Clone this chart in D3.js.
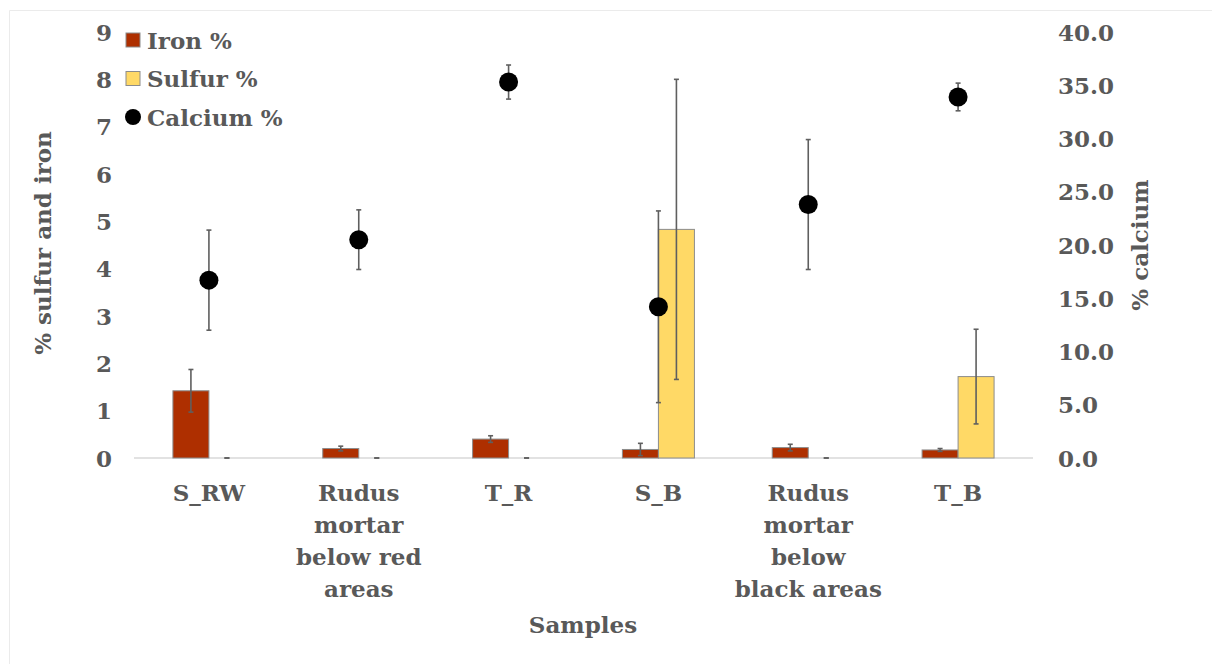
<!DOCTYPE html>
<html>
<head>
<meta charset="utf-8">
<script src="https://cdn.jsdelivr.net/npm/d3@7"></script>
<style>
  body { margin: 0; background: #fff; }
  svg text { font-family: "DejaVu Serif", "Liberation Serif", serif; font-weight: bold; fill: #595959; }
</style>
</head>
<body>
<svg id="chart" width="1212" height="664"></svg>
<script>
// Chart data
const categories = ["S_RW", "Rudus mortar below red areas", "T_R", "S_B", "Rudus mortar below black areas", "T_B"];
const categoryLines = [["S_RW"], ["Rudus", "mortar", "below red", "areas"], ["T_R"], ["S_B"], ["Rudus", "mortar", "below", "black areas"], ["T_B"]];
const ironValues = [1.42, 0.20, 0.40, 0.18, 0.22, 0.17];
const ironErrors = [0.45, 0.05, 0.07, 0.13, 0.07, 0.03];
const sulfurValues = [0, 0, 0, 4.83, 0, 1.72];
const sulfurErrors = [0, 0, 0, 3.17, 0, 1.0];
const calciumValues = [16.7, 20.5, 35.3, 14.2, 23.8, 33.9];
const calciumErrors = [4.7, 2.8, 1.6, 9.0, 6.1, 1.3];
const leftTicks = [0, 1, 2, 3, 4, 5, 6, 7, 8, 9];
const rightTicks = [0, 5, 10, 15, 20, 25, 30, 35, 40];

const svg = d3.select("#chart");

// light frame (top and left only visible)
svg.append("line").attr("x1", 9.5).attr("y1", 10.5).attr("x2", 1212).attr("y2", 10.5).attr("stroke", "#ebebeb");
svg.append("line").attr("x1", 9.5).attr("y1", 10.5).attr("x2", 9.5).attr("y2", 664).attr("stroke", "#ebebeb");

// Scales
const x = d3.scaleBand().domain(categories).range([134, 1033]);
const series = d3.scaleBand().domain(["iron", "sulfur"]).range([-36, 36]);
const yLeft = d3.scaleLinear().domain([0, 9]).range([458, 32]);
const yRight = d3.scaleLinear().domain([0, 40]).range([458, 32]);

const center = (c) => x(c) + x.bandwidth() / 2;

// Left axis labels
svg.append("g").selectAll("text").data(leftTicks).join("text")
  .attr("x", 112).attr("y", (d) => yLeft(d))
  .attr("text-anchor", "end").attr("dominant-baseline", "central")
  .style("font-size", "23px").text((d) => d);

// Right axis labels
svg.append("g").selectAll("text").data(rightTicks).join("text")
  .attr("x", 1058).attr("y", (d) => yRight(d))
  .attr("text-anchor", "start").attr("dominant-baseline", "central")
  .style("font-size", "23px").text((d) => d3.format(".1f")(d));

// Baseline
svg.append("line").attr("x1", 134).attr("x2", 1033).attr("y1", yLeft(0)).attr("y2", yLeft(0))
  .attr("stroke", "#d9d9d9").attr("stroke-width", 1.5);

// Bars
function drawBars(values, errors, key, color) {
  const g = svg.append("g");
  g.selectAll("rect").data(values).join("rect")
    .attr("x", (d, i) => center(categories[i]) + series(key))
    .attr("width", series.bandwidth())
    .attr("y", (d) => yLeft(d))
    .attr("height", (d) => yLeft(0) - yLeft(d))
    .attr("fill", color)
    .attr("stroke", (d) => (d > 0 ? "#8c8c8c" : "none"))
    .attr("stroke-width", 1);

  values.forEach((v, i) => {
    const cx = center(categories[i]) + series(key) + series.bandwidth() / 2;
    drawError(cx, yLeft(v - errors[i]), yLeft(v + errors[i]));
  });
}

function drawError(cx, yLow, yHigh) {
  const g = svg.append("g").attr("stroke", "#5f5f5f").attr("stroke-width", 1.6);
  g.append("line").attr("x1", cx).attr("x2", cx).attr("y1", yLow).attr("y2", yHigh);
  g.append("line").attr("x1", cx - 2.5).attr("x2", cx + 2.5).attr("y1", yLow).attr("y2", yLow);
  g.append("line").attr("x1", cx - 2.5).attr("x2", cx + 2.5).attr("y1", yHigh).attr("y2", yHigh);
}

drawBars(ironValues, ironErrors, "iron", "#ae2f00");
drawBars(sulfurValues, sulfurErrors, "sulfur", "#ffd966");

// Calcium points with error bars
calciumValues.forEach((v, i) => {
  drawError(center(categories[i]), yRight(v - calciumErrors[i]), yRight(v + calciumErrors[i]));
});
svg.append("g").selectAll("circle").data(calciumValues).join("circle")
  .attr("cx", (d, i) => center(categories[i]))
  .attr("cy", (d) => yRight(d))
  .attr("r", 9.5)
  .attr("fill", "#000");

// X category labels
categoryLines.forEach((lines, i) => {
  const t = svg.append("text").attr("text-anchor", "middle").style("font-size", "23px");
  lines.forEach((line, j) => {
    t.append("tspan").attr("x", center(categories[i])).attr("y", 501 + j * 32).text(line);
  });
});

// Axis titles
svg.append("text").attr("x", 583).attr("y", 633).attr("text-anchor", "middle")
  .style("font-size", "23px").text("Samples");

svg.append("text").attr("transform", "translate(51,243) rotate(-90)")
  .attr("text-anchor", "middle").style("font-size", "23px").text("% sulfur and iron");

svg.append("text").attr("transform", "translate(1148,245) rotate(-90)")
  .attr("text-anchor", "middle").style("font-size", "23px").text("% calcium");

// Legend
const legendItems = [
  { label: "Iron %", type: "rect", color: "#ae2f00" },
  { label: "Sulfur %", type: "rect", color: "#ffd966" },
  { label: "Calcium %", type: "circle", color: "#000" }
];
const legend = svg.append("g");
legendItems.forEach((d, i) => {
  const cy = 40 + i * 38.5;
  if (d.type === "rect") {
    legend.append("rect").attr("x", 126).attr("y", cy - 7).attr("width", 14).attr("height", 14)
      .attr("fill", d.color).attr("stroke", "#8c8c8c");
  } else {
    legend.append("circle").attr("cx", 133).attr("cy", cy).attr("r", 8).attr("fill", d.color);
  }
  legend.append("text").attr("x", 147).attr("y", cy).attr("dominant-baseline", "central")
    .style("font-size", "23px").text(d.label);
});
</script>
</body>
</html>
